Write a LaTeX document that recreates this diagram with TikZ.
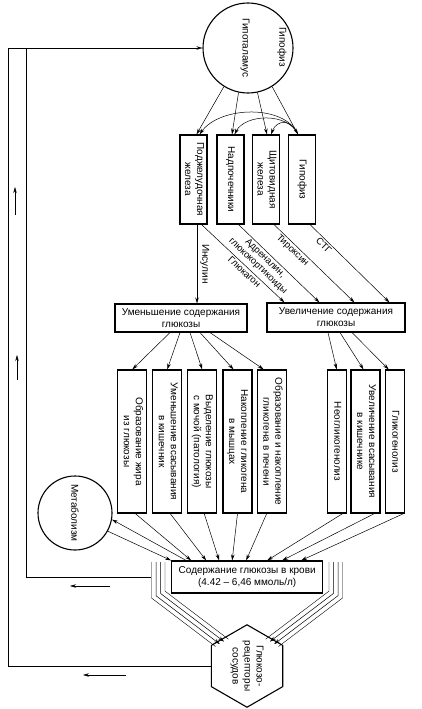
\documentclass[tikz,border=0pt]{standalone}
\usepackage{fontspec}
\setmainfont{Liberation Sans}
\usepackage{graphicx}
\usetikzlibrary{arrows.meta,shapes.geometric}

\newcommand{\vlabel}[1]{\rotatebox{-90}{\begin{tabular}{@{}c@{}}#1\end{tabular}}}

\begin{document}
\begin{tikzpicture}[x=1pt, y=-1pt,
    every node/.style={font=\fontsize{10}{12}\selectfont},
    box/.style={draw, line width=1.1pt, inner sep=0pt, align=center},
    gland/.style={box, minimum width=27, minimum height=89},
    effect/.style={box, minimum width=29, minimum height=143},
    thinbox/.style={box, minimum width=19, minimum height=143},
    organ/.style={circle, draw, line width=1.1pt, inner sep=0pt},
    hormone/.style={sloped, below, inner sep=1.5pt, font=\fontsize{9.5}{10.5}\selectfont},
    arr/.style={-{Stealth[length=6pt, width=3.5pt]}, line width=0.5pt}]

    \useasboundingbox(0, 0) rectangle(421, 709);

    \node[organ, minimum size=90] (hypo) at(248, 48){};
    \node[rotate=-90] (hyponame) at(245, 48){Гипоталамус};
    \node[rotate=-90] (pitname) at(282, 47){Гипофиз};

    \node[gland] (pancreas) at(193.5, 179.5){\vlabel{Поджелудочная\\железа}};
    \node[gland] (adrenal) at(230.5, 179.5){\vlabel{Надпочечники}};
    \node[gland] (thyroid) at(266, 179.5){\vlabel{Щитовидная\\железа}};
    \node[gland] (pituitary) at(302, 179.5){\vlabel{Гипофиз}};

    \draw[arr](hypo.238)--([xshift=3pt]pancreas.north);
    \draw[arr](hypo.258)--([xshift=1.5pt]adrenal.north);
    \draw[arr](hypo.282)--([xshift=1pt]thyroid.north);
    \draw[arr](hypo.302)--([xshift=-4pt]pituitary.north);

    \coordinate (stg) at([xshift=-4pt]pituitary.north);
    \draw[arr](stg) .. controls(285, 104) and(220, 106) .. ([xshift=6pt]pancreas.north);
    \draw[arr](stg) .. controls(288, 112) and(245, 114) .. ([xshift=4pt]adrenal.north);
    \draw[arr](stg) .. controls(292, 119) and(277, 119) .. ([xshift=5pt]thyroid.north);

    \node[box, minimum width=132, minimum height=28] (decrease) at(181, 318){Уменьшение содержания\\глюкозы};
    \node[box, minimum width=138, minimum height=29] (increase) at(336, 317.5){Увеличение содержания\\глюкозы};

    \coordinate (insulin) at([xshift=3.5pt]pancreas.south);
    \draw[arr](insulin)--(insulin |- decrease.north) node[midway, rotate=-90, anchor=south, inner sep=3pt]{Инсулин};

    \draw[arr]([xshift=8pt]pancreas.south)--([xshift=18pt]increase.north west) node[hormone, pos=0.56]{Глюкагон};
    \draw[arr]([xshift=8pt]adrenal.south)--([xshift=53pt]increase.north west) node[hormone, pos=0.38, align=center]{Адреналин,\\глюкокортикоиды};
    \draw[arr]([xshift=8pt]thyroid.south)--([xshift=88pt]increase.north west) node[hormone, pos=0.28]{Тироксин};
    \draw[arr]([xshift=8pt]pituitary.south)--([xshift=123pt]increase.north west) node[hormone, pos=0.22]{СТГ};

    \node[effect] (fat) at(132.3, 441.5){\vlabel{Образование жира\\из глюкозы}};
    \node[effect] (absorbdec) at(167.2, 441.5){\vlabel{Уменьшение всасывания\\в кишечник}};
    \node[effect] (urine) at(202.2, 441.5){\vlabel{Выделение глюкозы\\с мочой (патология)}};
    \node[effect] (muscle) at(237.5, 441.5){\vlabel{Накопление гликогена\\в мышцах}};
    \node[effect] (liver) at(271.7, 441.5){\vlabel{Образование и накопление\\гликогена в печени}};
    \node[thinbox] (neo) at(336.7, 441.5){\vlabel{Неогликогенолиз}};
    \node[effect] (absorbinc) at(365.5, 441.5){\vlabel{Увеличение всасывания\\в кишечнике}};
    \node[thinbox] (glycogenolysis) at(394.7, 441.5){\vlabel{Гликогенолиз}};

    \draw[arr]([xshift=-11pt]decrease.south)--(fat.north);
    \draw[arr]([xshift=-1pt]decrease.south)--(absorbdec.north);
    \draw[arr]([xshift=9pt]decrease.south)--(urine.north);
    \draw[arr]([xshift=19pt]decrease.south)--([xshift=-4pt]muscle.north);
    \draw[arr]([xshift=29pt]decrease.south)--([xshift=-8pt]liver.north);

    \draw[arr]([xshift=-8pt]increase.south)--(neo.north);
    \draw[arr]([xshift=4pt]increase.south)--([xshift=-2pt]absorbinc.north);
    \draw[arr]([xshift=16pt]increase.south)--([xshift=-6pt]glycogenolysis.north);

    \node[box, minimum width=151, minimum height=32] (blood) at(247.2, 577){Содержание глюкозы в крови\\(4.42 – 6,46 ммоль/л)};

    \draw[arr]([xshift=3pt]fat.south)--([xshift=20pt]blood.north west);
    \draw[arr]([xshift=3pt]absorbdec.south)--([xshift=35pt]blood.north west);
    \draw[arr]([xshift=2pt]urine.south)--([xshift=48pt]blood.north west);
    \draw[arr](muscle.south)--([xshift=61pt]blood.north west);
    \draw[arr]([xshift=-5pt]liver.south)--([xshift=75pt]blood.north west);
    \draw[arr]([xshift=6pt]neo.south)--([xshift=96pt]blood.north west);
    \draw[arr]([xshift=9pt]absorbinc.south)--([xshift=111pt]blood.north west);
    \draw[arr]([xshift=9pt]glycogenolysis.south)--([xshift=130pt]blood.north west);

    \node[organ, minimum size=74] (metab) at(75, 513){\rotatebox{-90}{Метаболизм}};
    \draw[arr]([xshift=15pt]blood.north west)--(metab.350);
    \draw[arr](metab.331)--(blood.north west);

    \node[regular polygon, regular polygon sides=6, shape border rotate=90, draw, line width=1.1pt, minimum size=75, inner sep=0pt] (receptor) at(247, 666){\vlabel{Глюкозо-\\рецепторы\\сосудов}};

    \foreach \k/\tip in {0/-, 1/arr, 2/arr, 3/-}{
        \draw[\tip](151.5+4.5*\k, 562)--(151.5+4.5*\k, 598-2.29*\k)--(215.6+4.27*\k, 646.6-2.47*\k);
        \draw[\tip](342.5-4.5*\k, 562)--(342.5-4.5*\k, 598-2.29*\k)--(278.4-4.27*\k, 646.6-2.47*\k);
    }

    \coordinate (innerturn) at(26, 48);
    \coordinate (outerturn) at(8, 48);
    \draw([xshift=-20.2pt]blood.west) -| (innerturn);
    \draw[arr](receptor.west) -| (outerturn)--(hypo.west);

    \draw[arr](15, 215)--(15, 187);
    \draw[arr](17, 380)--(17, 355);
    \draw[arr](110, 586)--(70, 586);
    \draw[arr](126, 675)--(83, 675);
\end{tikzpicture}
\end{document}
